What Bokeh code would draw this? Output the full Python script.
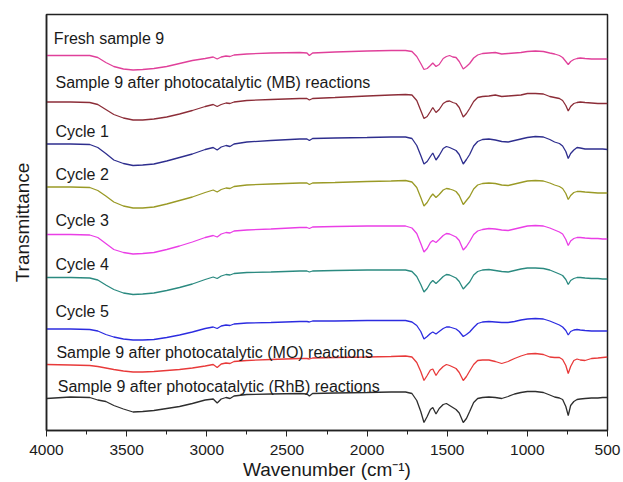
from bokeh.plotting import figure
from bokeh.models import Range1d, Label, FixedTicker
from bokeh.embed import file_html
from bokeh.resources import INLINE

# ---- data (wavenumber grid, cm-1) ----
wavenumber = [4000, 3850, 3730, 3680, 3630, 3580, 3520, 3460, 3400, 3330,
              3250, 3170, 3090, 3010, 2960, 2935, 2910, 2880, 2855, 2830,
              2750, 2600, 2420, 2375, 2360, 2340, 2200, 2000, 1850, 1760,
              1720, 1690, 1665, 1645, 1625, 1605, 1590, 1570, 1550, 1525,
              1505, 1485, 1465, 1445, 1425, 1400, 1380, 1360, 1335, 1310,
              1280, 1240, 1200, 1160, 1120, 1080, 1040, 1000, 950, 900,
              860, 830, 800, 780, 760, 745, 730, 710, 690, 670,
              640, 600, 560, 530, 500]

# stacked transmittance (a.u.)
fresh = [375, 375, 375, 373, 368, 364, 361.5, 360.5, 361, 362,
         364, 367, 370, 372, 373.5, 371.5, 373.5, 374.5, 374, 375.5,
         376.5, 377.5, 378, 377.5, 375, 377.5, 378.5, 379.5, 380, 380,
         379, 374, 367, 361, 362, 365, 367.5, 364, 366, 372,
         374, 375, 373.5, 373, 369, 361.5, 364, 367, 372.5, 375.5,
         377, 377.5, 378, 376.5, 377, 377.5, 378, 379, 379.5, 379,
         377.5, 376.5, 375, 373, 369, 366, 369, 371, 372, 372.5,
         372, 371.5, 371.5, 371.5, 371.5]
mb = [328.5, 328.5, 328, 326, 321, 316, 312.5, 310.5, 310.5, 311.5,
      313.5, 316.5, 320, 324, 326, 324, 326, 327.5, 327, 328.5,
      330, 331, 332, 332, 330.5, 332, 333, 334.5, 335.5, 336,
      335.5, 330, 320, 312, 314, 319, 323, 318, 321, 327,
      329, 329.5, 328, 327, 323, 313.5, 317, 322, 329, 333,
      334, 334.5, 335.5, 334, 334.5, 335, 335.5, 337, 337, 336.5,
      334, 333, 332, 330, 325, 319.5, 324, 327, 328, 328.5,
      328, 327.5, 327, 327, 327]
cycle1 = [286.5, 286.5, 286, 283, 277, 270.5, 267, 265, 265.5, 266.5,
          269.5, 273, 276.5, 281, 283, 280.5, 283.5, 285, 284, 286.5,
          288.5, 290, 291.5, 291.5, 290, 292, 292.5, 293, 293.5, 293.5,
          292, 285, 275, 266.5, 269, 274, 277.5, 270.5, 275, 282,
          284, 283, 281.5, 280, 276, 266.5, 271, 276, 284.5, 289,
          291, 291.5, 290.5, 289, 288.5, 290, 291.5, 293, 294, 293.5,
          291, 288.5, 287, 284.5, 279, 272, 277, 280.5, 283, 282.5,
          281.5, 281.5, 281.5, 281.5, 281]
cycle2 = [243.5, 243.5, 243, 240, 234.5, 228.5, 224.5, 222.5, 222.5, 223.5,
          226.5, 230, 233.5, 238, 240.5, 238.5, 241, 242.5, 242, 244,
          245.5, 246.5, 247.5, 247.5, 246, 247.5, 248, 249, 249.5, 250,
          248.5, 243, 233, 224.5, 228, 233.5, 236.5, 233, 236, 240.5,
          242, 241.5, 240.5, 239, 235, 226, 230, 234, 241.5, 245.5,
          247, 247.5, 247, 245.5, 245, 246.5, 248, 249.5, 250, 249.5,
          247.5, 245.5, 244, 242, 237, 231, 235, 238, 239, 239,
          238.5, 238, 237.5, 237.5, 237.5]
cycle3 = [196, 196, 195.5, 193, 187, 181, 178, 176.5, 177, 178,
          181, 184.5, 188.5, 193, 195, 193.5, 196.5, 198, 197.5, 199.5,
          200.5, 201.5, 203, 203, 202, 203.5, 204, 204.5, 204.5, 204.5,
          202.5, 197, 187, 178.5, 182, 188, 190, 188, 191, 195,
          197, 196.5, 195, 193.5, 190, 180.5, 184, 189, 196, 199.5,
          201, 202, 201.5, 200.5, 200, 201.5, 203, 204.5, 205, 204.5,
          202.5, 200.5, 198.5, 196.5, 191, 185, 189.5, 192, 193, 193,
          192.5, 192, 192, 191.5, 191.5]
cycle4 = [153, 153, 152.5, 150.5, 145.5, 141, 137.5, 136, 136.5, 137.5,
          140, 143, 146.5, 151, 153.5, 152, 154.5, 156, 155.5, 157,
          158, 158.5, 159.5, 159.5, 158.5, 159.5, 160, 160.5, 160.5, 160.5,
          159, 154, 146, 138.5, 142, 147.5, 150, 147, 150, 154,
          156, 155.5, 154, 152.5, 149, 141.5, 145, 148.5, 155.5, 159,
          160.5, 161, 160, 159, 158.5, 160, 161.5, 162.5, 162.5, 162,
          160.5, 158.5, 156.5, 155, 151, 146, 150, 152, 153, 153,
          152.5, 152, 152, 151.5, 151.5]
cycle5 = [101.5, 101.5, 101, 99.5, 96, 93.5, 91.5, 90.5, 90.5, 91,
          93, 95.5, 98.5, 102, 103.5, 102, 104.5, 105.5, 105, 106.5,
          107.5, 108, 109, 109, 108.5, 109.5, 109.5, 110, 110, 110,
          108.5, 105, 99, 91.5, 94, 97, 98.5, 96.5, 99, 102,
          103.5, 103.5, 102.5, 101.5, 99, 94, 96, 98.5, 103, 107,
          108.5, 109, 108.5, 108, 108, 109, 110.5, 111.5, 112, 111.5,
          109.5, 107.5, 105.5, 103.5, 100, 95.5, 99, 100.5, 101, 100.5,
          100, 99.5, 99.5, 99.5, 99.5]
mo = [66, 65.5, 65, 64, 62.5, 61, 59.5, 58.5, 58.5, 59,
      60, 61, 62.5, 64.5, 66, 63, 66.5, 67.5, 67, 69,
      70, 71, 72, 72, 71.5, 72.5, 73, 73.5, 74, 74.5,
      73.5, 68, 59, 50, 55, 60.5, 61.5, 55, 60, 64,
      66, 65, 63.5, 62, 58, 50, 54, 59.5, 66, 70,
      70.5, 70.5, 69, 67, 69, 72, 74.5, 76.5, 77, 76,
      73.5, 73, 73, 71, 65, 57, 64, 70, 71.5, 70.5,
      70, 72, 72.5, 73, 73.5]
rhb = [32, 33.5, 33, 30.5, 29, 25, 21.5, 18.5, 19, 20,
       22, 24, 27, 30.5, 31.5, 27.5, 31.5, 33, 32, 34.5,
       36, 36.5, 37, 36.5, 34.5, 37, 37.5, 38, 38.5, 38.5,
       37, 30, 19, 8, 14, 21, 23, 16.5, 22, 26,
       27, 25, 23, 21, 17.5, 8, 12, 19, 28, 32,
       33, 33.5, 33, 32, 34, 36.5, 38, 39, 39, 38,
       35.5, 33.5, 32.5, 31, 24, 15, 25, 29, 31, 31.5,
       32, 32.5, 32.5, 33, 33]

series_names = ["Fresh sample 9",
                "Sample 9 after photocatalytic (MB) reactions",
                "Cycle 1", "Cycle 2", "Cycle 3", "Cycle 4", "Cycle 5",
                "Sample 9 after photocatalytic (MO) reactions",
                "Sample 9 after photocatalytic (RhB) reactions"]
series_values = [fresh, mb, cycle1, cycle2, cycle3, cycle4, cycle5, mo, rhb]
x_ticks = [4000, 3500, 3000, 2500, 2000, 1500, 1000, 500]
x_minor_ticks = [3750, 3250, 2750, 2250, 1750, 1250, 750]

# ---- styles / layout ----
colors = ["#e0409a", "#8c2d38", "#2e2e8e", "#9a9a26", "#ea3ee6",
          "#2b8a80", "#2c2ce0", "#e83a3a", "#2e2e2e"]
label_pos = [(3954, 392.5), (3944, 348.3), (3944, 299.3), (3944, 256),
             (3944, 210), (3944, 166), (3944, 119.3), (3938, 78.3),
             (3930, 44.3)]
FONT = "Liberation Sans"

p = figure(width=623, height=482, output_backend="svg", toolbar_location=None,
           x_range=Range1d(4000, 500), y_range=Range1d(0, 416),
           min_border_left=46, min_border_right=16, min_border_top=14,
           min_border_bottom=52)
p.grid.visible = False
p.outline_line_color = "#222222"
p.outline_line_width = 1.5
p.background_fill_color = "white"
p.border_fill_color = "white"

for vals, col in zip(series_values, colors):
    p.line(wavenumber, vals, line_color=col, line_width=1.3)

for name, (lx, ly) in zip(series_names, label_pos):
    p.add_layout(Label(x=lx, y=ly, text=name, text_font=FONT,
                       text_font_size="16px", text_color="#1a1a1a",
                       text_baseline="middle", text_align="left"))

xa = p.xaxis[0]
xa.ticker = FixedTicker(ticks=x_ticks, minor_ticks=x_minor_ticks)
xa.axis_label = "Wavenumber (cm\u207b\u00b9)"
xa.axis_label_text_font = FONT
xa.axis_label_text_font_size = "19px"
xa.axis_label_text_font_style = "normal"
xa.axis_label_text_color = "#1a1a1a"
xa.axis_label_standoff = 1
xa.major_label_text_font = FONT
xa.major_label_text_font_size = "15.5px"
xa.major_label_text_color = "#1a1a1a"
xa.major_label_standoff = 8
xa.major_tick_in = 0
xa.major_tick_out = 6
xa.minor_tick_in = 0
xa.minor_tick_out = 4
xa.axis_line_width = 1.5
xa.axis_line_color = "#222222"
xa.major_tick_line_color = "#222222"
xa.minor_tick_line_color = "#222222"

ya = p.yaxis[0]
ya.ticker = FixedTicker(ticks=[])
ya.axis_label = "Transmittance"
ya.axis_label_text_font = FONT
ya.axis_label_text_font_size = "19px"
ya.axis_label_text_font_style = "normal"
ya.axis_label_text_color = "#1a1a1a"
ya.axis_label_standoff = 14
ya.major_tick_line_color = None
ya.minor_tick_line_color = None
ya.axis_line_width = 1.5
ya.axis_line_color = "#222222"

open("out.html", "w").write(file_html(p, INLINE))
